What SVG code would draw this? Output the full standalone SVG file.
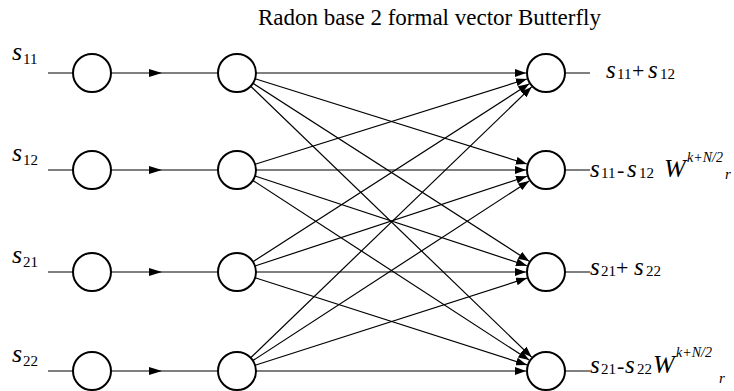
<svg xmlns="http://www.w3.org/2000/svg" width="734" height="391" viewBox="0 0 734 391">
<style>
.node{fill:#fff;stroke:#000;stroke-width:2}
.c{stroke:#000;stroke-width:1.2;fill:none}
.a{marker-end:url(#ah)}
.t{font-family:"Liberation Serif","Times New Roman",serif;fill:#000}
.i{font-style:italic}
</style>
<defs>
<marker id="ah" markerUnits="userSpaceOnUse" markerWidth="12" markerHeight="8" viewBox="0 0 12 8" refX="11" refY="4" orient="auto">
<path d="M0,0 L11,4 L0,8 Z" fill="#000"/>
</marker>
<marker id="am" markerUnits="userSpaceOnUse" markerWidth="14" markerHeight="8" viewBox="0 0 14 8" refX="13" refY="4" orient="auto">
<path d="M0,0 L13,4 L0,8 Z" fill="#000"/>
</marker>
</defs>
<text class="t" x="258" y="25" font-size="23">Radon base 2 formal vector Butterfly</text>
<g id="connectors">
<path class="c" d="M48,73 H73 M48,170 H73 M48,272 H73 M48,371 H73"/>
<path class="c" d="M111,73 L162,73 L219,73" marker-mid="url(#am)"/>
<path class="c" d="M111,170 L162,170 L219,170" marker-mid="url(#am)"/>
<path class="c" d="M111,272 L162,272 L219,272" marker-mid="url(#am)"/>
<path class="c" d="M111,371 L162,371 L219,371" marker-mid="url(#am)"/>
<line class="c a" x1="256" y1="73" x2="526" y2="73"/>
<line class="c a" x1="255.1" y1="78.7" x2="526.9" y2="164"/>
<line class="c a" x1="253" y1="83.3" x2="529.2" y2="261.2"/>
<line class="c a" x1="250.7" y1="86.2" x2="531.6" y2="357.1"/>
<line class="c a" x1="255.1" y1="164.3" x2="526.9" y2="79"/>
<line class="c a" x1="256" y1="170" x2="526" y2="170"/>
<line class="c a" x1="255" y1="176" x2="527" y2="265.7"/>
<line class="c a" x1="252.9" y1="180.4" x2="529.2" y2="360.1"/>
<line class="c a" x1="253" y1="261.7" x2="529.2" y2="83.8"/>
<line class="c a" x1="255" y1="266" x2="527" y2="176.3"/>
<line class="c a" x1="256" y1="272" x2="526" y2="272"/>
<line class="c a" x1="255.1" y1="277.8" x2="527" y2="364.9"/>
<line class="c a" x1="250.7" y1="357.8" x2="531.6" y2="86.9"/>
<line class="c a" x1="252.9" y1="360.6" x2="529.2" y2="180.9"/>
<line class="c a" x1="255.1" y1="365.2" x2="527" y2="278.1"/>
<line class="c a" x1="256" y1="371" x2="526" y2="371"/>
<path class="c" d="M565,73 H590 M565,170 H590 M565,272 H590 M565,371 H590"/>
</g>
<g id="in1"><circle class="node" cx="92" cy="73" r="19"/><text class="t" y="60"><tspan class="i" x="12" font-size="26">s</tspan><tspan x="23" dy="4" font-size="15">11</tspan></text></g>
<g id="in2"><circle class="node" cx="92" cy="170" r="19"/><text class="t" y="161"><tspan class="i" x="12" font-size="26">s</tspan><tspan x="23" dy="4" font-size="15">12</tspan></text></g>
<g id="in3"><circle class="node" cx="92" cy="272" r="19"/><text class="t" y="263"><tspan class="i" x="12" font-size="26">s</tspan><tspan x="23" dy="4" font-size="15">21</tspan></text></g>
<g id="in4"><circle class="node" cx="92" cy="371" r="19"/><text class="t" y="362"><tspan class="i" x="12" font-size="26">s</tspan><tspan x="23" dy="4" font-size="15">22</tspan></text></g>
<g id="mid1"><circle class="node" cx="237" cy="73" r="19"/></g>
<g id="mid2"><circle class="node" cx="237" cy="170" r="19"/></g>
<g id="mid3"><circle class="node" cx="237" cy="272" r="19"/></g>
<g id="mid4"><circle class="node" cx="237" cy="371" r="19"/></g>
<g id="out1"><circle class="node" cx="546" cy="73" r="19"/><text class="t" y="78" font-size="22"><tspan class="i" x="606" font-size="25">s</tspan><tspan x="617" dy="1" font-size="15">11</tspan><tspan x="632" dy="-1">+</tspan><tspan class="i" x="648" font-size="25">s</tspan><tspan x="660" dy="1" font-size="15">12</tspan></text></g>
<g id="out2"><circle class="node" cx="546" cy="170" r="19"/><text class="t" y="177" font-size="22"><tspan class="i" x="590" font-size="25">s</tspan><tspan x="601" dy="1" font-size="15">11</tspan><tspan x="617" dy="-1">-</tspan><tspan class="i" x="627" font-size="25">s</tspan><tspan x="639" dy="1" font-size="15">12</tspan><tspan class="i" x="664" dy="-1" font-size="26">W</tspan><tspan class="i" x="687" dy="-15" font-size="14">k+N/2</tspan><tspan class="i" x="725" dy="17" font-size="15">r</tspan></text></g>
<g id="out3"><circle class="node" cx="546" cy="272" r="19"/><text class="t" y="275" font-size="22"><tspan class="i" x="590" font-size="25">s</tspan><tspan x="601" dy="1" font-size="15">21</tspan><tspan x="616" dy="-1">+</tspan><tspan class="i" x="634" font-size="25">s</tspan><tspan x="646" dy="1" font-size="15">22</tspan></text></g>
<g id="out4"><circle class="node" cx="546" cy="371" r="19"/><text class="t" y="373" font-size="22"><tspan class="i" x="590" font-size="25">s</tspan><tspan x="601" dy="1" font-size="15">21</tspan><tspan x="617" dy="-1">-</tspan><tspan class="i" x="625" font-size="25">s</tspan><tspan x="637" dy="1" font-size="15">22</tspan><tspan class="i" x="653" dy="-1" font-size="26">W</tspan><tspan class="i" x="676" dy="-16" font-size="14">k+N/2</tspan><tspan class="i" x="719" dy="26" font-size="15">r</tspan></text></g>
</svg>
